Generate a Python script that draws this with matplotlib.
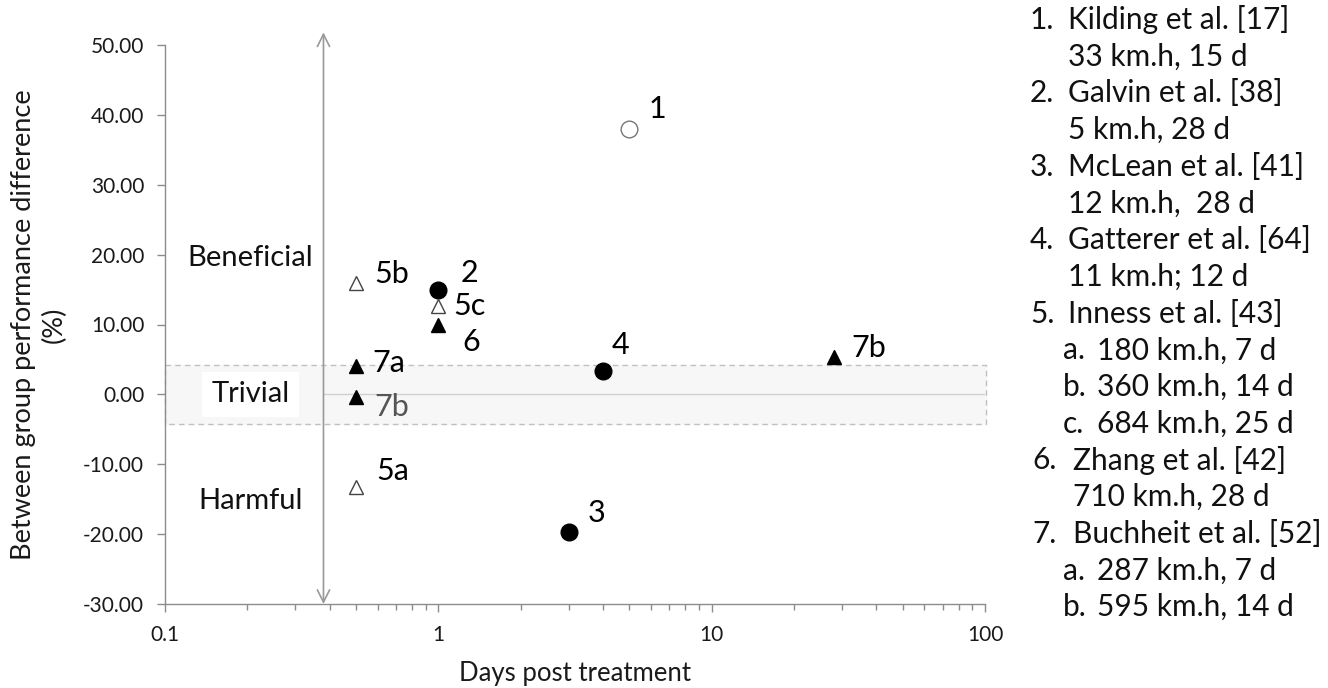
import matplotlib
matplotlib.use("Agg")
import matplotlib.pyplot as plt
from matplotlib.ticker import LogLocator, NullFormatter
from matplotlib.transforms import blended_transform_factory

plt.rcParams['font.family'] = ['Lato', 'DejaVu Sans']

# ---- data ----
labels  = ["1", "2", "3", "4", "5a", "5b", "5c", "6", "7a", "7b", "7b"]
days    = [5.0, 1.0, 3.0, 4.0, 0.5, 0.5, 1.0, 1.0, 0.5, 0.5, 28.0]
diff    = [38.0, 15.0, -19.7, 3.3, -13.2, 16.0, 12.7, 9.9, 4.1, -0.4, 5.4]
markers = ["o", "o", "o", "o", "^", "^", "^", "^", "^", "^", "^"]
filled  = [False, True, True, True, False, False, False, True, True, True, True]
# label offsets in pixels (dx, dy)
offsets = [(19, 20), (22, 17), (19, 19), (9, 26), (20, 16), (18, 9), (15, 0),
           (24, -17), (16, 3), (18, -10), (17, 9)]
label_colors = ["black"] * 9 + ["#555555", "black"]

yticks = [-30, -20, -10, 0, 10, 20, 30, 40, 50]
xticks = [0.1, 1, 10, 100]
xtick_labels = ["0.1", "1", "10", "100"]

zones = ["Beneficial", "Trivial", "Harmful"]
zone_y = [19.5, 0.0, -15.2]
trivial_band = (-4.2, 4.2)
arrow_x = 0.38

legend_lines = [
    ("1.", "Kilding et al. [17]", 0),
    ("", "33 km.h, 15 d", 0),
    ("2.", "Galvin et al. [38]", 0),
    ("", "5 km.h, 28 d", 0),
    ("3.", "McLean et al. [41]", 0),
    ("", "12 km.h,  28 d", 0),
    ("4.", "Gatterer et al. [64]", 0),
    ("", "11 km.h; 12 d", 0),
    ("5.", "Inness et al. [43]", 0),
    ("a.", "180 km.h, 7 d", 1),
    ("b.", "360 km.h, 14 d", 1),
    ("c.", "684 km.h, 25 d", 1),
    ("6.", "Zhang et al. [42]", 2),
    ("", "710 km.h, 28 d", 2),
    ("7.", "Buchheit et al. [52]", 2),
    ("a.", "287 km.h, 7 d", 1),
    ("b.", "595 km.h, 14 d", 1),
]

W, H = 1328, 688
fig = plt.figure(figsize=(W / 100, H / 100), dpi=100)
ax = fig.add_axes([165 / W, 1 - 604 / H, 820 / W, 559 / H])
ax.set_xscale("log")
ax.set_xlim(0.1, 100)
ax.set_ylim(-30, 50)

spine_c = "#8c8c8c"
for s in ["top", "right"]:
    ax.spines[s].set_visible(False)
for s in ["left", "bottom"]:
    ax.spines[s].set_color(spine_c)
    ax.spines[s].set_linewidth(1.0)

ax.set_yticks(yticks)
ax.set_yticklabels([f"{v:.2f}" for v in yticks])
ax.set_xticks(xticks)
ax.set_xticklabels(xtick_labels)
ax.xaxis.set_minor_locator(LogLocator(base=10, subs=range(2, 10)))
ax.xaxis.set_minor_formatter(NullFormatter())
ax.tick_params(axis="both", which="major", colors=spine_c, labelcolor="#1a1a1a",
               labelsize=15, length=6, width=1.0)
ax.tick_params(axis="x", which="minor", colors=spine_c, length=4.5, width=1.0)
ax.tick_params(axis="y", pad=9)
ax.tick_params(axis="x", pad=9)

ax.set_xlabel("Days post treatment", fontsize=18.5, color="#1a1a1a", labelpad=12)
ax.set_ylabel("Between group performance difference\n(%)", fontsize=19.5,
              color="#1a1a1a", labelpad=12, linespacing=1.25)

# trivial band
ax.fill_between([0.1, 100.5], trivial_band[0], trivial_band[1], color="#f7f7f7",
                zorder=0, clip_on=False)
ax.plot([0.1, 100.5, 100.5, 0.1, 0.1],
        [trivial_band[1], trivial_band[1], trivial_band[0], trivial_band[0], trivial_band[1]],
        color="#c0c0c0", lw=1.0, ls=(0, (4, 3)), zorder=1, clip_on=False)
# zero line
ax.plot([arrow_x, 100], [0, 0], color="#d0d0d0", lw=1.0, zorder=1)

# vertical double-headed arrow
ax.annotate("", xy=(arrow_x, 51.8), xytext=(arrow_x, -30),
            arrowprops=dict(arrowstyle="<->", color="#999999", lw=1.2,
                            mutation_scale=22, shrinkA=0, shrinkB=0),
            annotation_clip=False)

# zone labels
trans = blended_transform_factory(ax.transAxes, ax.transData)
for z, y in zip(zones, zone_y):
    bbox = dict(facecolor="white", edgecolor="none", pad=7) if z == "Trivial" else None
    ax.text(0.104, y, z, transform=trans, ha="center", va="center", fontsize=21,
            color="#111111", bbox=bbox, zorder=3)

# points
for x, y, m, f in zip(days, diff, markers, filled):
    if m == "o":
        ms = 12
        ec = "black" if f else "#777777"
    else:
        ms = 10.5
        ec = "black" if f else "#444444"
    ax.plot([x], [y], marker=m, ms=ms, mfc="black" if f else "white",
            mec=ec, mew=1.0, ls="none", zorder=4)

for lab, x, y, (dx, dy), c in zip(labels, days, diff, offsets, label_colors):
    ax.annotate(lab, (x, y), xytext=(dx, dy), textcoords="offset pixels",
                ha="left", va="center", fontsize=22, color=c, zorder=5)

# right-hand legend text
x_num = [1030, 1063, 1032]
x_body = [1068, 1097, 1073]
y0 = 20
dy = 36.7
for i, (num, body, style) in enumerate(legend_lines):
    yy = 1 - (y0 + i * dy) / H
    if num:
        fig.text(x_num[style] / W, yy, num, ha="left", va="center", fontsize=21.5,
                 color="#111111")
    fig.text(x_body[style] / W, yy, body, ha="left", va="center", fontsize=21.5,
             color="#111111")

fig.savefig("out.png", dpi=100)
